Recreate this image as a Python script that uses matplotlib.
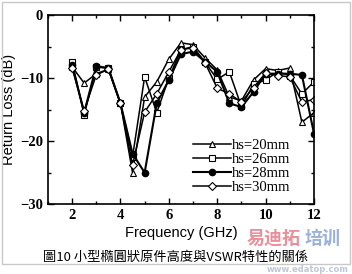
import matplotlib
matplotlib.use('Agg')
import matplotlib.pyplot as plt
from matplotlib.patches import Rectangle

# frequency points (GHz)
freq = [2, 2.5, 3, 3.5, 4, 4.5, 5, 5.5, 6, 6.5, 7, 7.5, 8, 8.5, 9, 9.5, 10, 10.5, 11, 11.5, 12]

# return loss (dB)
rl_20 = [-8.2, -10.8, -9.3, -8.6, -14, -25, -13, -10.6, -7, -4.4, -4.7, -6.8, -8.7, -13, -13.6, -10.3, -8.5, -8.8, -8.4, -17, -15.5]
rl_26 = [-7.4, -15.8, -8.3, -8.4, -14, -22.5, -9.8, -15.5, -10, -5.5, -5, -7.5, -10.2, -9, -14.5, -11, -10.3, -9, -9.6, -12.5, -10.6]
rl_28 = [-7.9, -15.5, -8.1, -8.4, -14, -22, -25, -14, -10.3, -6.2, -5.8, -7.4, -9, -14, -14.6, -12.2, -9.3, -9.3, -9.3, -9.5, -18.8]
rl_30 = [-8.4, -15.2, -9.5, -8.6, -14, -23.8, -15.4, -12.5, -9, -5.5, -5.2, -7.6, -11.6, -12.5, -13.8, -11.5, -9.2, -9.6, -9.8, -13.8, -13.4]

labels = ['hs=20mm', 'hs=26mm', 'hs=28mm', 'hs=30mm']

fig = plt.figure(figsize=(3.52, 2.74), dpi=100)
ax = fig.add_axes([0.136, 0.255, 0.756, 0.69])

ax.plot(freq, rl_20, color='k', lw=1.1, marker='^', ms=4, mfc='white', mec='k', mew=0.8, label=labels[0])
ax.plot(freq, rl_26, color='k', lw=1.1, marker='s', ms=4, mfc='white', mec='k', mew=0.8, label=labels[1])
ax.plot(freq, rl_28, color='k', lw=1.5, marker='o', ms=4.5, mfc='k', mec='k', label=labels[2])
ax.plot(freq, rl_30, color='k', lw=1.1, marker='D', ms=3.8, mfc='white', mec='k', mew=0.8, label=labels[3])

ax.set_xlim(1, 12)
ax.set_ylim(-30, 0)
ax.set_xticks([2, 4, 6, 8, 10, 12])
ax.set_xticks([1, 3, 5, 7, 9, 11], minor=True)
ax.set_yticks([0, -10, -20, -30])
ax.set_yticks([-5, -15, -25], minor=True)
ax.tick_params(which='both', direction='in', top=True, right=True, width=1)
ax.tick_params(which='major', length=4, labelsize=10.5)
ax.tick_params(which='minor', length=2.5)
for s in ax.spines.values():
    s.set_linewidth(1.2)
for t in ax.get_xticklabels() + ax.get_yticklabels():
    t.set_family('Liberation Serif')
    t.set_weight('bold')

ax.set_xlabel('Frequency (GHz)', family='Liberation Sans', fontsize=10.5, labelpad=3)
ax.set_ylabel('Return Loss (dB)', family='Liberation Sans', fontsize=10.5, labelpad=3)

ax.legend(loc='lower right', frameon=False, prop={'family': 'Liberation Serif', 'size': 10.5},
          handlelength=2.6, handletextpad=0.1, labelspacing=0.05, borderaxespad=0.3,
          bbox_to_anchor=(0.95, 0.0))

fig.text(0.5, 0.06, '圖10 小型橢圓狀原件高度與VSWR特性的關係', ha='center', va='center',
         family=['Noto Sans CJK TC', 'DejaVu Sans'], fontsize=9.5)

# watermark, kept off the other texts
fig.text(0.70, 0.13, '易迪拓', color='#e06070', alpha=0.7, fontsize=13, weight='bold',
         family=['Noto Sans CJK SC', 'DejaVu Sans'], va='center')
fig.text(0.865, 0.13, '培训', color='#7090c8', alpha=0.7, fontsize=13, weight='bold',
         family=['Noto Sans CJK SC', 'DejaVu Sans'], va='center')
fig.text(0.99, 0.0, 'www.edatop.com', color='#8090b0', alpha=0.5, fontsize=6, weight='bold',
         ha='right', va='bottom')

fig.patches.append(Rectangle((0.006, 0.035), 0.988, 0.958, transform=fig.transFigure,
                             fill=False, edgecolor='#c8c8c8', lw=1))

fig.savefig('out.png', dpi=100)
